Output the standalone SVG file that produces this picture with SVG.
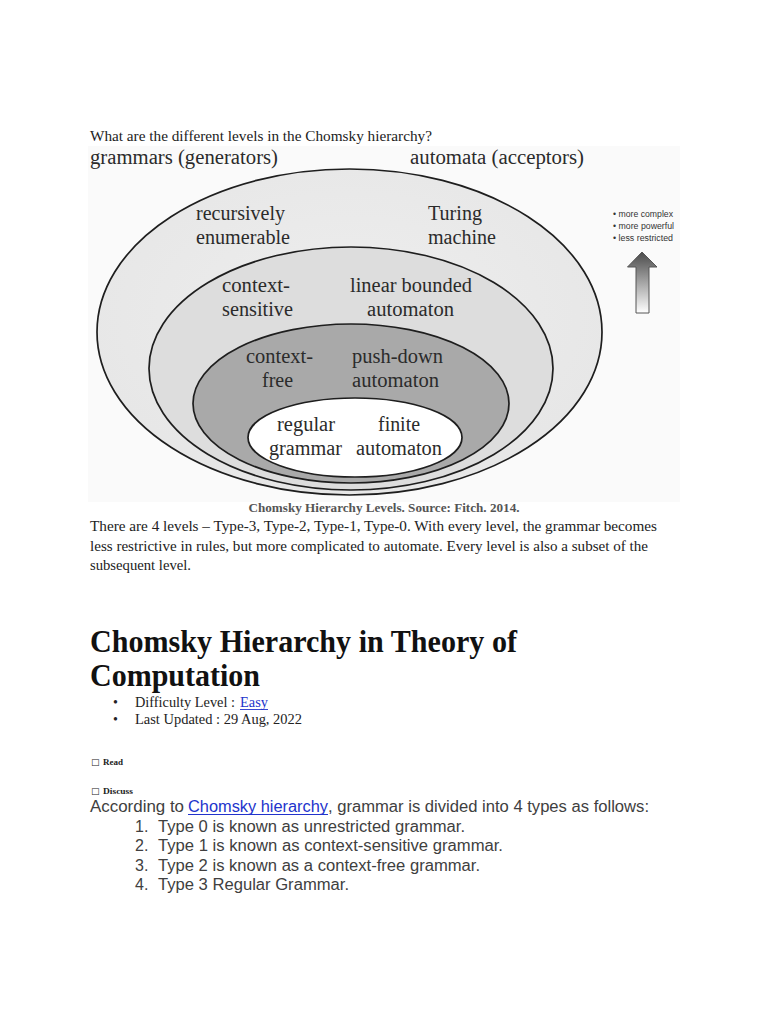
<svg xmlns="http://www.w3.org/2000/svg" width="768" height="1024" viewBox="0 0 768 1024">
<style>
.fig{font-family:"Liberation Serif","Times New Roman",serif;font-size:20px;fill:#2b2b2b}
.body{font-family:"Liberation Serif","Times New Roman",serif;font-size:14px;fill:#222}
.sans{font-family:"Liberation Sans",Arial,sans-serif;font-size:16px;fill:#404040}
.small{font-family:"Liberation Sans",Arial,sans-serif;font-size:8.5px;fill:#333}
.ell{stroke:#1e1e1e;stroke-width:1.7}
.link{fill:#2233cc}
</style>
<defs>
<linearGradient id="arrowGrad" x1="0" y1="0" x2="0" y2="1">
<stop offset="0" stop-color="#4a4a4a"/>
<stop offset="1" stop-color="#ffffff"/>
</linearGradient>
<radialGradient id="outerGrad" cx="0.5" cy="0.45" r="0.6">
<stop offset="0" stop-color="#eeeeee"/>
<stop offset="1" stop-color="#e6e6e6"/>
</radialGradient>
</defs>
<rect width="768" height="1024" fill="#ffffff"/>
<rect x="88" y="146" width="592" height="356" fill="#fafafa"/>

<text class="body" x="90" y="141" textLength="342" lengthAdjust="spacingAndGlyphs">What are the different levels in the Chomsky hierarchy?</text>
<text class="fig" x="90" y="164" textLength="188" lengthAdjust="spacingAndGlyphs">grammars (generators)</text>
<text class="fig" x="410" y="164" textLength="174" lengthAdjust="spacingAndGlyphs">automata (acceptors)</text>

<g id="recursively-enumerable">
<ellipse class="ell" cx="349.5" cy="332" rx="252.5" ry="163" fill="url(#outerGrad)"/>
<text class="fig" x="196" y="220" textLength="89" lengthAdjust="spacingAndGlyphs">recursively</text>
<text class="fig" x="196" y="244" textLength="94" lengthAdjust="spacingAndGlyphs">enumerable</text>
<text class="fig" x="428" y="220" textLength="54" lengthAdjust="spacingAndGlyphs">Turing</text>
<text class="fig" x="428" y="244" textLength="68" lengthAdjust="spacingAndGlyphs">machine</text>
</g>

<g id="context-sensitive">
<ellipse class="ell" cx="351" cy="368.5" rx="202" ry="121.5" fill="#dddddd"/>
<text class="fig" x="222" y="292" textLength="68" lengthAdjust="spacingAndGlyphs">context-</text>
<text class="fig" x="222" y="316" textLength="71" lengthAdjust="spacingAndGlyphs">sensitive</text>
<text class="fig" x="350" y="292" textLength="122" lengthAdjust="spacingAndGlyphs">linear bounded</text>
<text class="fig" x="367" y="316" textLength="87" lengthAdjust="spacingAndGlyphs">automaton</text>
</g>

<g id="context-free">
<ellipse class="ell" cx="351" cy="403.5" rx="158" ry="79.5" fill="#a9a9a9"/>
<text class="fig" x="246" y="363" textLength="67" lengthAdjust="spacingAndGlyphs">context-</text>
<text class="fig" x="262" y="387" textLength="31" lengthAdjust="spacingAndGlyphs">free</text>
<text class="fig" x="352" y="363" textLength="91" lengthAdjust="spacingAndGlyphs">push-down</text>
<text class="fig" x="352" y="387" textLength="87" lengthAdjust="spacingAndGlyphs">automaton</text>
</g>

<g id="regular">
<ellipse class="ell" cx="355" cy="437.5" rx="107" ry="39.5" fill="#ffffff"/>
<text class="fig" x="277" y="431" textLength="58" lengthAdjust="spacingAndGlyphs">regular</text>
<text class="fig" x="269" y="455" textLength="73" lengthAdjust="spacingAndGlyphs">grammar</text>
<text class="fig" x="378" y="431" textLength="42" lengthAdjust="spacingAndGlyphs">finite</text>
<text class="fig" x="356" y="455" textLength="86" lengthAdjust="spacingAndGlyphs">automaton</text>
</g>

<g id="legend">
<text class="small" x="613" y="217" textLength="60" lengthAdjust="spacingAndGlyphs">• more complex</text>
<text class="small" x="613" y="229" textLength="61" lengthAdjust="spacingAndGlyphs">• more powerful</text>
<text class="small" x="613" y="241" textLength="60" lengthAdjust="spacingAndGlyphs">• less restricted</text>
<polygon points="642,252 657,267 649,267 649,313 636,313 636,267 627.5,267" fill="url(#arrowGrad)" stroke="#555" stroke-width="1"/>
</g>

<text x="384" y="512" text-anchor="middle" textLength="271" lengthAdjust="spacingAndGlyphs" style="font-family:'Liberation Serif','Times New Roman',serif;font-size:11.5px;font-weight:bold;fill:#555">Chomsky Hierarchy Levels. Source: Fitch. 2014.</text>

<text class="body" x="90" y="531" textLength="567" lengthAdjust="spacingAndGlyphs">There are 4 levels – Type-3, Type-2, Type-1, Type-0. With every level, the grammar becomes</text>
<text class="body" x="90" y="551" textLength="558" lengthAdjust="spacingAndGlyphs">less restrictive in rules, but more complicated to automate. Every level is also a subset of the</text>
<text class="body" x="90" y="570" textLength="101" lengthAdjust="spacingAndGlyphs">subsequent level.</text>

<text x="90" y="652" textLength="427" lengthAdjust="spacingAndGlyphs" style="font-family:'Liberation Serif','Times New Roman',serif;font-size:31px;font-weight:bold;fill:#111">Chomsky Hierarchy in Theory of</text>
<text x="90" y="686" textLength="170" lengthAdjust="spacingAndGlyphs" style="font-family:'Liberation Serif','Times New Roman',serif;font-size:31px;font-weight:bold;fill:#111">Computation</text>

<text class="body" x="113" y="707">•</text>
<text class="body" x="135" y="707" textLength="100" lengthAdjust="spacingAndGlyphs">Difficulty Level :</text>
<text class="body link" x="240" y="707" textLength="28" lengthAdjust="spacingAndGlyphs">Easy</text>
<line x1="240" y1="709.5" x2="268" y2="709.5" stroke="#2233cc" stroke-width="0.9"/>
<text class="body" x="113" y="724">•</text>
<text class="body" x="135" y="724" textLength="167" lengthAdjust="spacingAndGlyphs">Last Updated : 29 Aug, 2022</text>

<text x="91" y="765" style="font-family:'DejaVu Sans',sans-serif;font-size:9px;fill:#222">□</text>
<text x="103" y="765" textLength="20" lengthAdjust="spacingAndGlyphs" style="font-family:'Liberation Serif',serif;font-size:9px;font-weight:bold;fill:#222">Read</text>
<text x="91" y="794" style="font-family:'DejaVu Sans',sans-serif;font-size:9px;fill:#222">□</text>
<text x="103" y="794" textLength="30" lengthAdjust="spacingAndGlyphs" style="font-family:'Liberation Serif',serif;font-size:9px;font-weight:bold;fill:#222">Discuss</text>

<text class="sans" x="90" y="812" textLength="94" lengthAdjust="spacingAndGlyphs">According to</text>
<text class="sans link" x="188" y="812" textLength="140" lengthAdjust="spacingAndGlyphs">Chomsky hierarchy</text>
<line x1="188" y1="814.5" x2="328" y2="814.5" stroke="#2233cc" stroke-width="1"/>
<text class="sans" x="328" y="812" textLength="321" lengthAdjust="spacingAndGlyphs">, grammar is divided into 4 types as follows:</text>

<text class="sans" x="135" y="832">1.</text>
<text class="sans" x="158" y="832" textLength="307" lengthAdjust="spacingAndGlyphs">Type 0 is known as unrestricted grammar.</text>
<text class="sans" x="135" y="851">2.</text>
<text class="sans" x="158" y="851" textLength="345" lengthAdjust="spacingAndGlyphs">Type 1 is known as context-sensitive grammar.</text>
<text class="sans" x="135" y="871">3.</text>
<text class="sans" x="158" y="871" textLength="322" lengthAdjust="spacingAndGlyphs">Type 2 is known as a context-free grammar.</text>
<text class="sans" x="135" y="890">4.</text>
<text class="sans" x="158" y="890" textLength="191" lengthAdjust="spacingAndGlyphs">Type 3 Regular Grammar.</text>
</svg>
